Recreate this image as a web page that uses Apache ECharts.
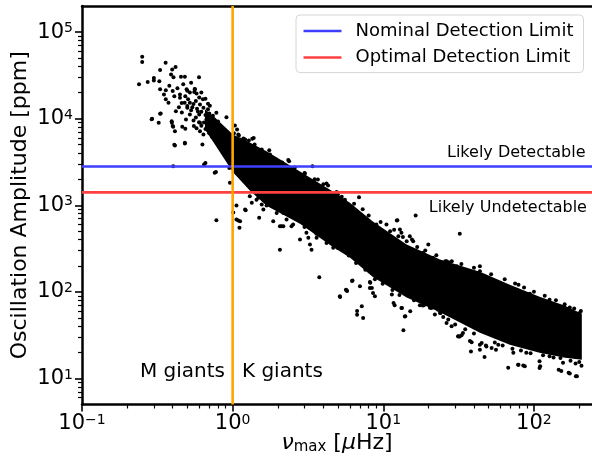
<!DOCTYPE html>
<html><head><meta charset="utf-8">
<script src="https://cdn.jsdelivr.net/npm/echarts@6/dist/echarts.min.js"></script>
<style>html,body{margin:0;padding:0;background:#fff}#c{width:592px;height:459px}</style>
</head><body><div id="c"></div>
<script>
// ---- data ----
const starPoints = [
[0.251,52000],[0.251,45000],[0.239,25000],[0.273,26500],[0.30,29500],[0.30,27500],[0.326,27000],[0.359,44300],[0.33,36500],[0.397,37000],[0.418,39400],[0.39,32400],[0.405,30000],[0.454,30500],[0.482,30500],[0.598,30000],
[0.33,21800],[0.36,21300],[0.40,20800],[0.41,18200],[0.447,19000],[0.485,18200],[0.50,21000],[0.56,22000],[0.556,20300],[0.36,16800],[0.375,15300],[0.48,15300],[0.52,15300],[0.50,13400],[0.607,14600],[0.64,13400],[0.686,12800],[0.706,14100],
[0.292,10000],[0.323,8950],[0.33,11400],[0.395,8950],[0.40,8200],[0.41,5000],[0.482,5170],[0.403,2830],[0.66,3080],[0.775,2420],[0.96,1820],[0.91,10400],[1.07,7500],[1.035,8350],[1.38,5970],[0.78,670],[1.01,824],[1.06,684],[1.22,875],
[0.463,8050],[0.485,7630],[0.553,8250],[0.576,7770],[0.598,9100],[0.495,21800],[0.52,20000],[0.562,21800],[0.576,19500],[0.447,17400],[0.459,15200],[0.414,4900],[0.403,8050],[0.414,7170],[0.394,9350],[0.482,5260],[0.333,11500],[0.29,9850],
[0.646,2950],[1.09,667],[1.11,548],[3.39,2830],[2.34,3320],[3.26,1660],[1.86,654],[2.06,572],[1.21,892],[1.34,1070],[1.48,1220],[1.6,1160],[2.73,935],[2.8,654],[3.09,598],[2.17,816],
[1.06,993],[1.12,654],[1.5,715],[1.6,892],[1.56,1020],[2.06,307],[2.11,572],[2.46,572],[2.8,401],[3.18,420],[4.2,1780],[4.0,1390],[5.5,1110],[1.75,4330],[2.37,3220],[2.06,2950],[1.09,6570],[1.12,5750],[1.35,5870],[0.76,2380],[0.63,5030],[0.64,6570],[0.607,8950],[0.67,9800],[0.78,11700],
[6.9,1240],[5.56,1110],[5.43,1070],[12.3,665],[16.4,760],[32.2,470],[12.9,524],[13.2,480],[15.8,383],[15.0,438],
[3.76,147],[5.15,89],[5.7,104],[7.0,116],[8.15,111],[8.15,130],[7.2,68],[6.7,60],[6.7,54.5],[7.35,50],[8.55,97],[8.8,89],[11.9,70],[13.2,65],[13.9,52],[13.6,36],[17.5,69.8],[20.9,65],[22,54.6],[26.3,43.6],[28.4,40],[33.1,31.5],[38.6,26.1],[38.2,20.5],[3.26,351],[3.34,307],[2.17,572],
[12.4,670],[5.65,106],[6.25,135],[18.3,69.7],[23.8,57],[31.4,30.6],[37.6,27],[43.8,24.5],[48,24],[43.8,197],[43.8,173],
[50,135],[55,133],[61,116],[69,111],[79,121],[77,106],[190,56],[20.4,65.5],[23.1,62.2],[25,51.3],[32.2,30.5],[33.8,33.5],[47,17.7],[67.5,13.3],[78.5,14.4],[87,13.8],[109,15.8],[109,13.2],[152,12.2],[173,11.4],[190,10.6],[189,14.9],[156,15.2],[127,18],[89,19.8],[73,19.8],[56,21.5],[48.4,23.4],[43.8,21.5],
[5.17,87],[5.75,102],[6.2,133],[8.2,127],[8.4,111],[11.4,93],[11.7,74.5],[13.3,65.2],[14.0,52.2],[15.1,59.5],[22,68],[31.5,30.5],[45,25.7],[52.4,22.4],[58,24.5],[79,14.4],[85,14.1],[110,13.8],[146,12.6],[170,11.6],[193,10.6],[25.8,226],[27.1,220],[19.9,351],[15.5,401],
[2.4,2390],[2.8,2090],[3.26,1740],[2.22,2830],
[6.0,892],[7.0,781],[7.75,684],[9.0,598],[11.1,500],[12.6,438],[14.3,383],[18.4,282],[21.4,247],[26.3,226],[30.7,197],[37.6,173],
[1.30,1270],[1.44,1160],[1.68,993],[1.96,816],[2.28,684],[2.52,598],[3.09,480],[3.61,420],[4.2,367],[4.65,322],[5.7,282],
[94,95],[127,81],[173,66],[201,57],
[0.506,16700],[0.54,13500],[0.588,12100],[0.635,16700],[0.686,14900],[0.52,11200],[0.57,10300],[0.645,9000],[0.706,8150],[0.49,9800],[0.607,7150],[0.73,6200],[0.80,5310],[0.85,4400],[0.90,3860],[0.824,7500],[0.93,5750],[1.035,4400],[1.15,3860],[1.08,2960],[1.21,2450],[1.34,2090],[1.47,1740],[1.57,1440],
[1.21,5750],[1.40,5030],[1.56,4400],[1.77,3860],[1.94,3380],[2.13,3120],[2.59,2730],[3.02,2320],[3.68,1980],[4.3,1690],[5.0,1330],[5.56,1160],
[3.0,2350],[3.5,2000],[4.0,1750],[4.9,1420],[5.3,1250],[6.4,1040],[7.3,900],[8.0,760],[9.6,640],[10.5,600],[11.8,520],[13.5,430],[16.8,330],[19.0,300],[22.5,265],[28.5,225],[33,210],[40,190],[52,160],[64,140],[75,125],[86,112],[100,100],[118,90],[140,80],[160,72],[185,64],[205,60],
[3.0,560],[3.6,470],[4.2,400],[5.0,320],[5.9,262],[6.6,215],[7.6,180],[8.8,140],[9.9,124],[11.5,105],[12.8,92],[16,80],[18.6,70],[24,57],[27,48],[30,42],[35,37],[40,33],[55,26],[62,24],[72,22],[82,21],[95,19.5],[115,18.5],[135,17.5],[150,17.2],[175,16],[200,15.5],[207,14],
[0.50,14000],[0.53,12500],[0.55,14800],[0.58,13000],[0.60,11200],[0.62,12000],[0.57,16000],[0.60,17500],[0.66,11000],[0.68,10000],[0.70,11500],[0.72,9500],[0.75,8800],[0.74,10800],[0.78,8200],[0.80,9300],[0.82,6800],[0.84,8000],[0.87,6300],[0.88,7400],[0.92,6900],[0.95,5200],[0.97,6200],[0.99,4800],[0.86,5400],[0.70,6800],[0.66,7600],[0.62,8300],[0.55,9500],[0.46,11800],[0.44,13500],[0.42,12200],[0.43,22500],[0.47,25000],[0.38,24000],[0.35,19000],[0.53,26000],[0.62,20000],[0.66,17000],
[1.02,6800],[1.1,6400],[1.18,5900],[1.28,5600],[1.05,3300],[0.98,3100],[0.95,2700]
];
// dense core of the star cloud: upper and lower envelope at each frequency
const bandX  = [0.655, 0.763, 1.005, 1.30, 1.69, 2.80, 4.63, 6.00, 8.53, 14.3, 23.8, 43.8, 69.2, 109, 161, 208];
const bandHi = [12800, 10300, 6570, 5310, 4180, 2450, 1440, 1070, 649, 351, 236, 171, 121, 87.9, 69.2, 56];
const bandLo = [7500, 5030, 2400, 1480, 980, 610, 330, 250, 148, 86, 58, 33.7, 24.5, 19.8, 17.3, 16.4];

const nominalLimit = 2800;
const optimalLimit = 1410;
const giantBoundary = 1.0;

const xRange = [0.1, 243];
const yRange = [5, 200000];
const xMajorTicks = [0.1, 1, 10, 100];
const xMinorTicks = [0.2,0.3,0.4,0.5,0.6,0.7,0.8,0.9,2,3,4,5,6,7,8,9,20,30,40,50,60,70,80,90,200];
const yMajorTicks = [10, 100, 1000, 10000, 100000];
const yMinorTicks = [6,7,8,9,20,30,40,50,60,70,80,90,200,300,400,500,600,700,800,900,2000,3000,4000,5000,6000,7000,8000,9000,20000,30000,40000,50000,60000,70000,80000,90000];

const annotations = [
  {text: 'Likely Detectable',   x: 220,   y: 4010, align: 'right', size: 16},
  {text: 'Likely Undetectable', x: 225,   y: 929,  align: 'right', size: 16},
  {text: 'M giants',            x: 0.889, y: 11.95, align: 'right', size: 20},
  {text: 'K giants',            x: 1.153, y: 11.95, align: 'left',  size: 20}
];

// ---- chart ----
const FONT = '"DejaVu Sans", sans-serif';
const chart = echarts.init(document.getElementById('c'), null, {renderer: 'canvas'});

function powLabel(v) {
  const e = Math.round(Math.log10(v));
  return '{b|10}{sup|' + (e < 0 ? '\u2212' + (-e) : e) + '}';
}
const powRich = {
  b:   {fontSize: 21, fontFamily: FONT, color: '#000', verticalAlign: 'top', lineHeight: 21},
  sup: {fontSize: 14, fontFamily: FONT, color: '#000', verticalAlign: 'top', lineHeight: 14}
};

function mainAxis(extra) {
  return Object.assign({
    type: 'log', logBase: 10, gridIndex: 0,
    axisLine: {show: true, onZero: false, lineStyle: {color: '#000', width: 2.5}},
    axisTick: {show: true, inside: false, length: 7, lineStyle: {color: '#000', width: 1.6}},
    axisLabel: {formatter: powLabel, rich: powRich, margin: 9},
    splitLine: {show: false},
    minorTick: {show: false}
  }, extra);
}
function minorAxis(extra, values) {
  return Object.assign({
    type: 'log', logBase: 10, gridIndex: 0,
    axisLine: {show: false, onZero: false},
    axisTick: {show: true, inside: false, length: 4, lineStyle: {color: '#000', width: 1.2}, customValues: values},
    axisLabel: {show: false},
    splitLine: {show: false}
  }, extra);
}

const option = {
  animation: false,
  backgroundColor: '#fff',
  grid: {left: 82, right: 0, top: 6, bottom: 54.5, containLabel: false, outerBoundsMode: 'none'},
  xAxis: [
    mainAxis({min: xRange[0], max: xRange[1], position: 'bottom',
      axisTick: {show: true, inside: false, length: 7, lineStyle: {color: '#000', width: 1.6}, customValues: xMajorTicks},
      axisLabel: {formatter: powLabel, rich: powRich, margin: 9, customValues: xMajorTicks},
      name: '{i|\u03bd}{sub|max}{r| [}{i|\u03bc}{r|Hz]}',
      nameLocation: 'middle', nameGap: 28, nameMoveOverlap: false,
      nameTextStyle: {rich: {
        i:   {fontSize: 22, fontFamily: FONT, fontStyle: 'italic', color: '#000', verticalAlign: 'bottom', lineHeight: 22},
        r:   {fontSize: 22, fontFamily: FONT, color: '#000', verticalAlign: 'bottom', lineHeight: 22},
        sub: {fontSize: 15, fontFamily: FONT, color: '#000', verticalAlign: 'bottom', lineHeight: 10}
      }}
    }),
    minorAxis({min: xRange[0], max: xRange[1], position: 'bottom'}, xMinorTicks),
    {type: 'log', logBase: 10, gridIndex: 0, min: xRange[0], max: xRange[1], position: 'top',
     axisLine: {show: true, onZero: false, lineStyle: {color: '#000', width: 2.5}},
     axisTick: {show: false}, axisLabel: {show: false}, splitLine: {show: false}}
  ],
  yAxis: [
    mainAxis({min: yRange[0], max: yRange[1], position: 'left',
      axisTick: {show: true, inside: false, length: 7, lineStyle: {color: '#000', width: 1.6}, customValues: yMajorTicks},
      axisLabel: {formatter: powLabel, rich: powRich, margin: 9, customValues: yMajorTicks},
      name: 'Oscillation Amplitude [ppm]',
      nameLocation: 'middle', nameGap: 51, nameMoveOverlap: false,
      nameTextStyle: {fontSize: 22, fontFamily: FONT, color: '#000'}
    }),
    minorAxis({min: yRange[0], max: yRange[1], position: 'left'}, yMinorTicks)
  ],
  legend: {
    orient: 'vertical', left: 296, top: 15,
    itemWidth: 38, itemHeight: 2.5, itemGap: 8.6,
    padding: [7, 10, 6, 7.5],
    backgroundColor: 'rgba(255,255,255,0.85)',
    borderColor: '#d6d6d6', borderWidth: 1, borderRadius: 4,
    textStyle: {fontSize: 18, fontFamily: FONT, color: '#000', padding: [0, 0, 0, 9]},
    data: [{name: 'Nominal Detection Limit', icon: 'rect'}, {name: 'Optimal Detection Limit', icon: 'rect'}]
  },
  series: [
    {
      name: 'core', type: 'custom', xAxisIndex: 0, yAxisIndex: 0, silent: true, clip: true, z: 2,
      data: bandX.map((x, i) => [x, bandLo[i], bandHi[i]]),
      encode: {x: 0, y: [1, 2]},
      renderItem: function (params, api) {
        if (params.dataIndex !== 0) return null;
        const top = [], bot = [];
        for (let i = 0; i < bandX.length; i++) {
          top.push(api.coord([bandX[i], bandHi[i]]));
          bot.push(api.coord([bandX[i], bandLo[i]]));
        }
        return {type: 'polygon', shape: {points: top.concat(bot.reverse())}, style: {fill: '#000'}};
      }
    },
    {
      name: 'stars', type: 'scatter', xAxisIndex: 0, yAxisIndex: 0, z: 3,
      symbol: 'circle', symbolSize: 4, itemStyle: {color: '#000', opacity: 1},
      data: starPoints, silent: true
    },
    {
      name: 'Nominal Detection Limit', type: 'line', xAxisIndex: 0, yAxisIndex: 0, z: 4,
      symbol: 'none', color: '#3f3fff', lineStyle: {color: '#3f3fff', width: 2.6},
      data: [[xRange[0], nominalLimit], [xRange[1], nominalLimit]]
    },
    {
      name: 'Optimal Detection Limit', type: 'line', xAxisIndex: 0, yAxisIndex: 0, z: 4,
      symbol: 'none', color: '#ff4040', lineStyle: {color: '#ff4040', width: 2.6},
      data: [[xRange[0], optimalLimit], [xRange[1], optimalLimit]]
    },
    {
      name: 'giant boundary', type: 'line', xAxisIndex: 0, yAxisIndex: 0, z: 5,
      symbol: 'none', color: '#ffa500', lineStyle: {color: '#ffa500', width: 2.6},
      data: [[giantBoundary, yRange[0]], [giantBoundary, yRange[1]]]
    }
  ]
};
chart.setOption(option);

chart.setOption({
  graphic: annotations.map(a => {
    const p = chart.convertToPixel({xAxisIndex: 0, yAxisIndex: 0}, [a.x, a.y]);
    return {
      type: 'text', x: p[0], y: p[1], z: 10,
      style: {text: a.text, fill: '#000', font: a.size + 'px ' + FONT, textAlign: a.align, textVerticalAlign: 'middle'}
    };
  })
});
</script></body></html>
